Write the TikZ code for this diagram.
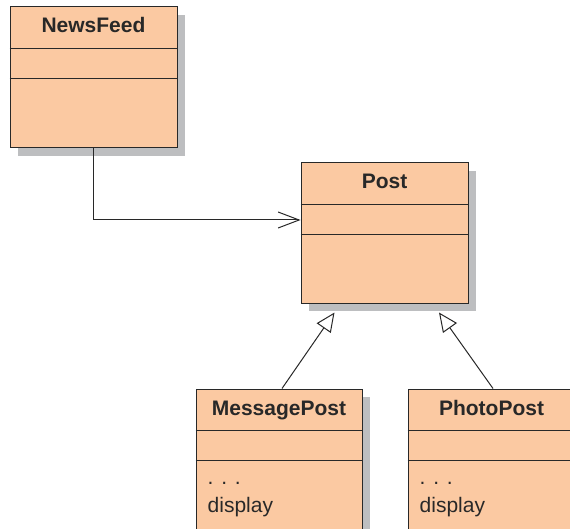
\documentclass[tikz,border=0pt]{standalone}
\usepackage{fontspec}
\setmainfont{Liberation Sans}
\usetikzlibrary{arrows.meta,shadows}
\definecolor{classfill}{RGB}{251,201,162}
\definecolor{shadowgray}{RGB}{189,190,192}
\definecolor{lineink}{RGB}{40,40,40}
\begin{document}
\begin{tikzpicture}[x=1pt, y=-1pt, font=\fontsize{21}{25}\selectfont,
  classbox/.style={draw=lineink, line width=1pt, fill=classfill, minimum width=167pt, inner sep=0pt,
    drop shadow={shadow xshift=8pt, shadow yshift=-8pt, fill=shadowgray, opacity=1}},
  classtitle/.style={anchor=base, inner sep=0pt, font=\fontsize{21}{25}\selectfont\bfseries, text=lineink},
  member/.style={anchor=base west, inner sep=0pt, text=lineink},
  assoc/.style={draw=lineink, line width=1pt, -{Straight Barb[length=21pt, width=16pt]}},
  inherit/.style={draw=lineink, line width=1pt, -{Triangle[open, length=19pt, width=17pt, fill=white]}}]
  \useasboundingbox (0,0) rectangle (570,529);
  \clip (0,0) rectangle (570,529);
  % classes
  \node[classbox, minimum height=141pt] (newsfeed) at (93.5,77.5) {};
  \node[classbox, minimum height=140pt] (post) at (384.5,233) {};
  \node[classbox, minimum width=166pt, minimum height=170pt] (msgpost) at (279,474) {};
  \node[classbox, minimum height=170pt] (photopost) at (491.5,474) {};
  \foreach \c/\t in {newsfeed/NewsFeed, post/Post, msgpost/MessagePost, photopost/PhotoPost} {
    \node[classtitle] (\c-title) at ([yshift=-26.5pt]\c.north) {\t};
    \draw[lineink, line width=1pt] ([yshift=-42pt]\c.north west) -- ([yshift=-42pt]\c.north east);
    \draw[lineink, line width=1pt] ([yshift=-72pt]\c.north west) -- ([yshift=-72pt]\c.north east);
  }
  % methods
  \foreach \c in {msgpost, photopost} {
    \node[member] (\c-dots) at ([xshift=12pt, yshift=-96pt]\c.north west) {. . .};
    \node[member] (\c-display) at ([xshift=12pt, yshift=-124pt]\c.north west) {display};
  }
  % connectors
  \draw[assoc] (newsfeed.south) |- ([yshift=13pt]post.west);
  \draw[inherit] ([xshift=3pt]msgpost.north) -- ([xshift=-50pt, yshift=-9pt]post.south);
  \draw[inherit] ([xshift=1.5pt]photopost.north) -- ([xshift=54.5pt, yshift=-9pt]post.south);
\end{tikzpicture}
\end{document}
